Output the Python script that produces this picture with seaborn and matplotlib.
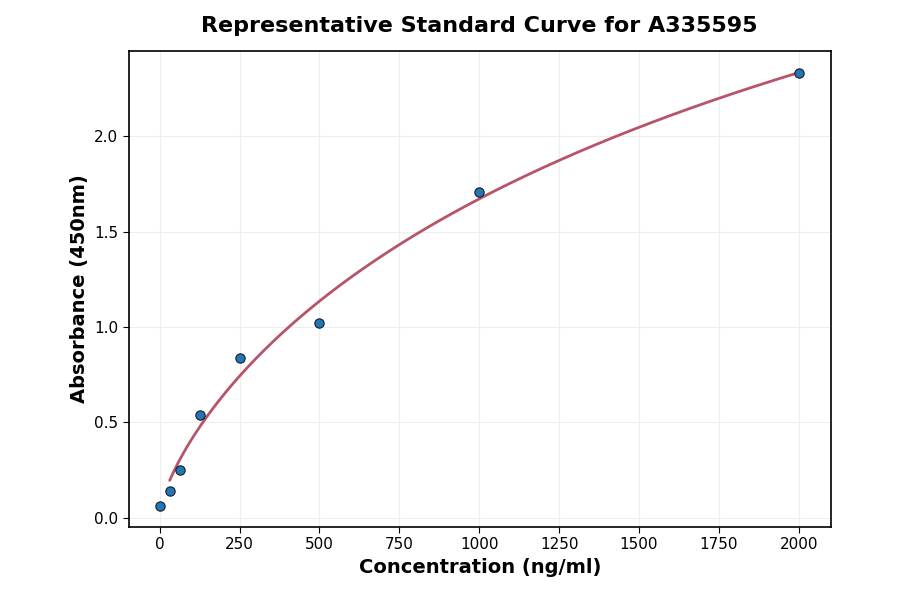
import numpy as np
import pandas as pd
import seaborn as sns
import matplotlib
matplotlib.use('Agg')
import matplotlib.pyplot as plt

# standard curve readings
conc = [0, 31.25, 62.5, 125, 250, 500, 1000, 2000]
absorb = [0.063, 0.141, 0.25, 0.54, 0.84, 1.02, 1.707, 2.33]
title = 'Representative Standard Curve for A335595'
xlabel = 'Concentration (ng/ml)'
ylabel = 'Absorbance (450nm)'

df = pd.DataFrame({'conc': conc, 'absorb': absorb})


def four_pl(x, p):
    a, b, c, d = p
    return d + (a - d) / (1.0 + (np.abs(x) / c) ** b)


# simple Levenberg-Marquardt fit of a 4PL model (no scipy here)
def fit_4pl(x, y, p0, iters=500):
    p = np.array(p0, dtype=float)
    lam = 1e-2
    for _ in range(iters):
        r = y - four_pl(x, p)
        J = np.zeros((len(x), len(p)))
        for i in range(len(p)):
            dp = np.zeros_like(p)
            dp[i] = 1e-6 * max(abs(p[i]), 1e-3)
            J[:, i] = (four_pl(x, p + dp) - four_pl(x, p)) / dp[i]
        A = J.T @ J
        g = J.T @ r
        step = np.linalg.solve(A + lam * np.diag(np.diag(A)), g)
        pn = p + step
        if pn[2] > 0 and np.sum((y - four_pl(x, pn)) ** 2) < np.sum(r ** 2):
            p = pn
            lam *= 0.5
        else:
            lam *= 4
    return p


x = np.array(conc, dtype=float)
y = np.array(absorb, dtype=float)
params = fit_4pl(x, y, [0.05, 1.0, 1500.0, 4.0])
xs = np.linspace(x[1], x[-1], 300)
curve = pd.DataFrame({'conc': xs, 'absorb': four_pl(xs, params)})

sns.set_style('white', {'text.color': 'black', 'axes.labelcolor': 'black',
                        'xtick.color': 'black', 'ytick.color': 'black'})
fig = plt.figure(figsize=(9, 5.94), dpi=100)
ax = fig.add_axes([0.143, 0.113, 0.78, 0.801])

sns.lineplot(data=curve, x='conc', y='absorb', color='#b85468', linewidth=2, ax=ax)
sns.scatterplot(data=df, x='conc', y='absorb', color='#1f77b4', edgecolor='#1a1a2e',
                linewidth=0.8, s=45, ax=ax, zorder=3)

ax.set_xlim(-97, 2100)
ax.set_ylim(-0.047, 2.445)
ax.set_xticks(np.arange(0, 2001, 250))
ax.set_yticks([0.0, 0.5, 1.0, 1.5, 2.0])
ax.set_yticklabels(['0.0', '0.5', '1.0', '1.5', '2.0'])
ax.grid(True, color='#eeeeee', linewidth=0.8)
ax.tick_params(axis='both', labelsize=11, length=4, left=True, bottom=True)
for s in ax.spines.values():
    s.set_color('black')
    s.set_linewidth(1.2)

ax.set_xlabel(xlabel, fontsize=14, fontweight='bold')
ax.set_ylabel(ylabel, fontsize=14, fontweight='bold')
ax.set_title(title, fontsize=16, fontweight='bold', pad=14)

fig.savefig('out.png', dpi=100)
